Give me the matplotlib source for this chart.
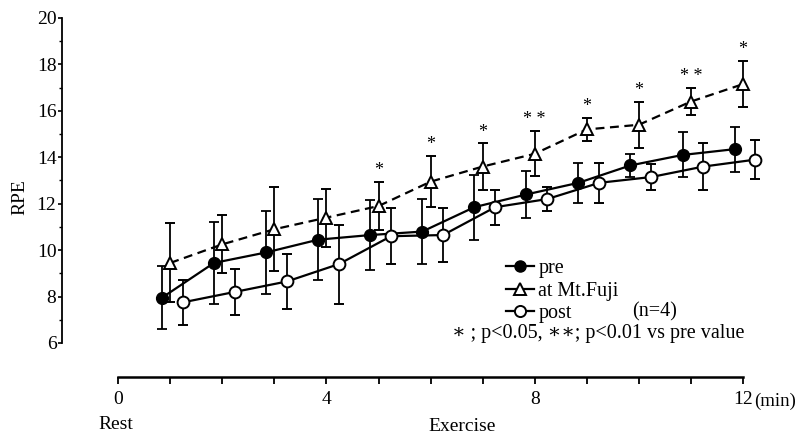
import matplotlib
matplotlib.use("Agg")
import matplotlib.pyplot as plt
from matplotlib.lines import Line2D
from matplotlib.ticker import FixedLocator

# RPE during exercise, mean and SD (n=4)
minutes = [1, 2, 3, 4, 5, 6, 7, 8, 9, 10, 11, 12]
pre_mean = [7.95, 9.45, 9.9, 10.45, 10.65, 10.8, 11.85, 12.4, 12.9, 13.65, 14.1, 14.35]
pre_sd = [1.35, 1.75, 1.8, 1.75, 1.5, 1.4, 1.4, 1.0, 0.85, 0.5, 0.97, 0.97]
fuji_mean = [9.45, 10.25, 10.9, 11.4, 11.9, 12.95, 13.6, 14.15, 15.2, 15.4, 16.4, 17.15]
fuji_sd = [1.7, 1.25, 1.8, 1.25, 1.05, 1.1, 1.0, 0.97, 0.5, 1.0, 0.6, 1.0]
post_mean = [7.75, 8.2, 8.65, 9.4, 10.6, 10.65, 11.85, 12.2, 12.9, 13.15, 13.6, 13.9]
post_sd = [0.97, 0.98, 1.2, 1.7, 1.2, 1.15, 0.75, 0.5, 0.85, 0.55, 1.0, 0.85]
fuji_sig = ['', '', '', '', '*', '*', '*', '* *', '*', '*', '* *', '*']

x_ticks = [0, 4, 8, 12]
y_ticks = [6, 8, 10, 12, 14, 16, 18, 20]

# small horizontal shifts so the groups don't overlap
pre_shift = -0.16
post_shift = 0.24

plt.rcParams['font.family'] = ['Liberation Serif', 'DejaVu Serif']

W, H = 799, 436
fig = plt.figure(figsize=(W / 100, H / 100), dpi=100)
ax = fig.add_axes([62 / W, (H - 377) / H, (795 - 62) / W, (377 - 18) / H])
ax.set_xlim(-1.08, 13.0)
ax.set_ylim(4.535, 20)

eb = dict(color='black', elinewidth=1.3, capsize=3.5, capthick=1.3, lw=1.6, ms=8.5)
ax.errorbar([m + pre_shift for m in minutes], pre_mean, yerr=pre_sd,
            fmt='-o', mfc='black', mec='black', zorder=3, **eb)
ax.errorbar(minutes, fuji_mean, yerr=fuji_sd, fmt='--^', mfc='white', mec='black',
            mew=1.4, dashes=(4, 2.5), zorder=4, **eb)
ax.errorbar([m + post_shift for m in minutes], post_mean, yerr=post_sd,
            fmt='-o', mfc='white', mec='black', mew=1.4, zorder=5, **eb)

for m, mu, sd, s in zip(minutes, fuji_mean, fuji_sd, fuji_sig):
    if s:
        ax.text(m, mu + sd + 0.12, s, ha='center', va='bottom', fontsize=13)

for side in ['top', 'right']:
    ax.spines[side].set_visible(False)
ax.spines['left'].set_bounds(6, 20)
ax.spines['bottom'].set_bounds(0, 12)
ax.spines['left'].set_linewidth(1.3)
ax.spines['bottom'].set_linewidth(1.8)

ax.yaxis.set_major_locator(FixedLocator(y_ticks))
ax.yaxis.set_minor_locator(FixedLocator([7, 9, 11, 13, 15, 17, 19]))
ax.set_yticklabels([str(v) for v in y_ticks])
ax.tick_params(axis='y', which='major', direction='out', length=3, width=1.2,
               labelsize=14, pad=1)
ax.tick_params(axis='y', which='minor', direction='out', length=2, width=1)

ax.xaxis.set_major_locator(FixedLocator(x_ticks))
ax.xaxis.set_minor_locator(FixedLocator(list(range(0, 13))))
ax.set_xticklabels([str(v) for v in x_ticks])
ax.tick_params(axis='x', which='both', direction='out', length=5, width=1.3,
               labelsize=14, pad=5)

ax.text(12.22, -0.043, '(min)', transform=ax.get_xaxis_transform(),
        ha='left', va='top', fontsize=13.5)
ax.text(-0.05, -0.11, 'Rest', transform=ax.get_xaxis_transform(),
        ha='center', va='top', fontsize=14)
ax.text(6.6, -0.115, 'Exercise', transform=ax.get_xaxis_transform(),
        ha='center', va='top', fontsize=14)
ax.set_ylabel('RPE', fontsize=14, labelpad=6)

handles = [
    Line2D([], [], color='black', lw=1.6, marker='o', ms=8, mfc='black', mec='black'),
    Line2D([], [], color='black', lw=1.6, marker='^', ms=8, mfc='white', mec='black', mew=1.4),
    Line2D([], [], color='black', lw=1.6, marker='o', ms=8, mfc='white', mec='black', mew=1.4),
]
ax.legend(handles, ['pre', 'at Mt.Fuji', 'post'], loc='upper left',
          bbox_to_anchor=(506 / W, 1 - 259 / H), bbox_transform=fig.transFigure,
          frameon=False, fontsize=14.5, handlelength=1.4, handletextpad=0.2,
          labelspacing=0.17, borderpad=0, borderaxespad=0)
fig.text(632 / W, 1 - 312 / H, '(n=4)', ha='left', va='center', fontsize=14.5)
fig.text(452 / W, 1 - 333 / H, '\u2217 ; p<0.05, \u2217\u2217; p<0.01 vs pre value',
         ha='left', va='center', fontsize=14.5)

fig.savefig('out.png', dpi=100)
